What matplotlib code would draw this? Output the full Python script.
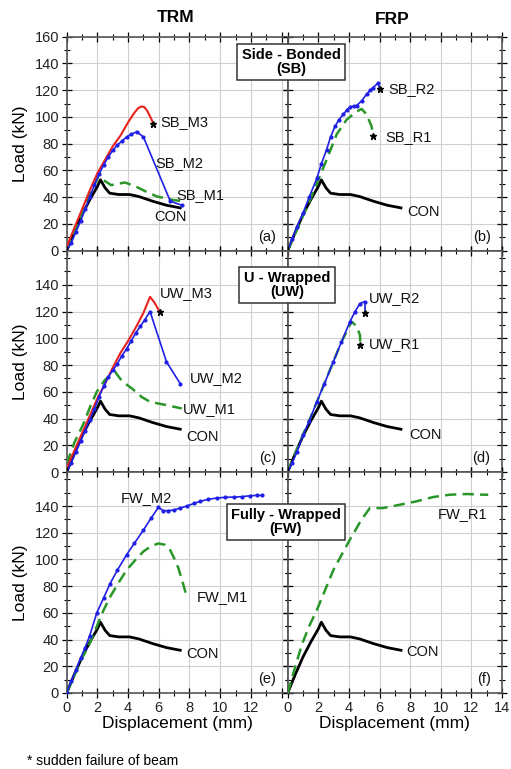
import matplotlib
matplotlib.use("Agg")
import matplotlib.pyplot as plt
from matplotlib.ticker import MultipleLocator

plt.rcParams['font.family'] = ['Liberation Sans', 'DejaVu Sans']

# ---- data ----
con_x = [0, 0.5, 1.0, 1.5, 2.0, 2.2, 2.5, 2.8, 3.4, 4.1, 4.7, 5.6, 6.5, 7.4]
con_y = [0, 14, 27, 38, 48, 53, 47, 43, 42, 42, 40.5, 37, 34, 32]

# side bonded
sb_m3_x = [0, 0.5, 1, 1.5, 2, 2.5, 3, 3.5, 4, 4.4, 4.65, 4.85, 5.05, 5.25, 5.45, 5.65]
sb_m3_y = [3, 17, 31, 45, 58, 68, 78, 86, 96, 103, 106.5, 107.8, 107.5, 104.5, 100, 95]
sb_m2_x = [0, 0.3, 0.6, 0.9, 1.2, 1.5, 1.8, 2.1, 2.4, 2.7, 3.0, 3.3, 3.6, 3.9, 4.2, 4.57, 5.0, 6.75, 7.5]
sb_m2_y = [0, 6, 14, 22, 31, 40, 49, 57, 64, 70, 75, 79, 82, 85, 87, 89, 85, 37, 34]
sb_m1_x = [0, 0.5, 1.0, 1.5, 2.07, 2.5, 2.9, 3.3, 3.8, 4.5, 5.2, 5.9, 6.9, 7.5]
sb_m1_y = [0, 14, 28, 42, 55.5, 52, 49, 50, 51, 48, 44, 40.5, 38, 37]
sb_r2_x = [0, 0.3, 0.6, 1.0, 1.4, 1.9, 2.2, 2.54, 2.8, 3.09, 3.35, 3.63, 3.85, 4.07, 4.3, 4.5, 4.83, 5.15, 5.4, 5.59, 5.91, 6.0]
sb_r2_y = [0, 9, 18, 28, 40, 54, 65, 75.5, 85, 93, 98, 102, 105, 107.5, 108, 108.5, 112, 117, 120, 122, 125.5, 121]
sb_r1_x = [0, 0.5, 1.0, 1.5, 2.0, 2.54, 3.2, 3.85, 4.5, 4.83, 5.15, 5.48, 5.6]
sb_r1_y = [0, 13, 26, 39, 53, 68, 87, 98, 104, 106, 102, 93, 85.5]

# U wrapped
uw_m3_x = [0, 0.5, 1, 1.5, 2, 2.5, 3, 3.5, 4, 4.5, 5, 5.43, 5.7, 6.05]
uw_m3_y = [3, 16, 29, 42, 55, 66, 78, 89, 98, 108, 119, 131, 127, 120]
uw_m2_x = [0, 0.3, 0.6, 0.9, 1.2, 1.5, 1.8, 2.1, 2.4, 2.7, 3.0, 3.3, 3.6, 3.9, 4.2, 4.5, 4.8, 5.1, 5.43, 6.5, 7.4]
uw_m2_y = [0, 7, 15, 23, 31, 39, 47, 56, 64, 71, 76, 81, 87, 92, 98, 104, 109, 114, 120, 82.5, 66]
uw_m1_x = [0, 0.5, 1.09, 1.5, 1.96, 2.5, 3.15, 3.6, 4.3, 4.9, 5.43, 6.5, 7.5]
uw_m1_y = [6, 22, 36, 48, 60, 69, 75, 68, 62, 56, 52.5, 50, 47.5]
uw_r2_x = [0, 0.3, 0.6, 1.0, 1.4, 1.9, 2.4, 2.98, 3.5, 4.07, 4.4, 4.72, 5.04, 5.06]
uw_r2_y = [0, 7, 15, 27.5, 38, 52.5, 66, 82.5, 97, 112.5, 120, 126, 127.5, 119]
uw_r1_x = [0, 0.5, 1.0, 1.5, 2.0, 2.5, 3.0, 3.5, 4.17, 4.5, 4.72, 4.75]
uw_r1_y = [0, 14, 28, 41, 55, 69, 83, 97, 112.5, 109, 102.5, 95]

# fully wrapped
fw_m2_x = [0, 0.3, 0.6, 0.9, 1.2, 1.5, 1.96, 2.4, 2.83, 3.3, 3.9, 4.4, 5.0, 5.5, 5.98, 6.3, 6.6, 6.96,
           7.4, 7.83, 8.3, 8.7, 9.2, 9.78, 10.3, 10.87, 11.4, 11.96, 12.4, 12.7]
fw_m2_y = [0, 9, 17, 26, 34, 43, 60, 71, 82, 92, 103.5, 112, 122, 131, 139, 136.5, 136.5, 137,
           138.5, 140, 142, 143.5, 145, 146, 146.5, 146.75, 147, 147.75, 148, 148]
fw_m1_x = [0, 0.5, 1.0, 1.5, 1.96, 2.4, 2.83, 3.4, 3.9, 4.5, 5.0, 5.5, 5.98, 6.4, 6.74, 7.0, 7.28, 7.55, 7.83]
fw_m1_y = [0, 13, 26, 37, 50, 62, 72, 83, 92, 100, 106, 110, 112, 111, 107, 101, 93.5, 83, 72]
fw_r1_x = [0, 0.45, 0.92, 1.4, 1.9, 2.98, 4.07, 4.83, 5.37, 6.24, 7.33, 8.4, 9.5, 10.6, 11.7, 12.76, 13.1]
fw_r1_y = [0, 18, 36, 50, 62, 92, 115, 130, 138.5, 138.5, 141, 143.5, 146.75, 148.5, 149, 148.5, 148.5]

RED = '#e8231f'
BLUE = '#1f1fe6'
GREEN = '#2a962a'


def con(ax):
    ax.plot(con_x, con_y, color='black', lw=2.0, zorder=3)


def red(ax, x, y):
    ax.plot(x, y, color=RED, lw=1.5, zorder=4)


def blue(ax, x, y):
    ax.plot(x, y, color=BLUE, lw=1.2, marker='o', ms=2.0, zorder=5)


def green(ax, x, y):
    ax.plot(x, y, color=GREEN, lw=1.8, ls=(0, (4.5, 2.5)), zorder=4)


def star(ax, x, y):
    ax.plot([x], [y], marker='*', color='black', ms=5, ls='none', zorder=6)


def lab(ax, x, y, s):
    ax.text(x, y, s, fontsize=10.5, ha='left', va='center', color='#111', zorder=7)


fig = plt.figure(figsize=(5.11, 7.69), dpi=100)
W, H = 511.0, 769.0
cols = [(66.7, 287.7, 14.4), (287.7, 502.0, 14.0)]
rows = [(36.7, 250.7, 160), (250.7, 472.0, 165.5), (472.0, 693.0, 165.5)]
axes = {}
for r, (top, bot, ymax) in enumerate(rows):
    for c, (left, right, xmax) in enumerate(cols):
        ax = fig.add_axes([left / W, 1 - bot / H, (right - left) / W, (bot - top) / H])
        ax.set_xlim(0, xmax)
        ax.set_ylim(0, ymax)
        ax.xaxis.set_major_locator(MultipleLocator(2))
        ax.xaxis.set_minor_locator(MultipleLocator(1))
        ax.set_yticks(range(0, 161 if r == 0 else 141, 20))
        ax.yaxis.set_minor_locator(MultipleLocator(10))
        ax.grid(True, which='major', color='#cfcfcf', lw=0.8)
        ax.set_axisbelow(True)
        ax.tick_params(which='both', direction='inout', top=True, right=True,
                       labelsize=10.5, labelcolor='#222', pad=2)
        ax.tick_params(which='major', length=7, width=0.9)
        ax.tick_params(which='minor', length=4, width=0.8)
        for sp in ax.spines.values():
            sp.set_color('#555')
            sp.set_linewidth(1.2)
        if c == 1:
            ax.tick_params(labelleft=False)
        else:
            ax.set_ylabel('Load (kN)', fontsize=12.5, labelpad=4)
            ax.yaxis.set_label_coords(-0.175, 0.5)
        if r < 2:
            ax.tick_params(labelbottom=False)
        else:
            ax.set_xlabel('Displacement (mm)', fontsize=12.5, labelpad=1)
            if c == 0:
                ax.set_xticks(range(0, 15, 2))
                ax.set_xticklabels([str(v) for v in range(0, 13, 2)] + [''])
        axes[(r, c)] = ax

# (a) side bonded TRM
ax = axes[(0, 0)]
con(ax)
green(ax, sb_m1_x, sb_m1_y)
blue(ax, sb_m2_x, sb_m2_y)
red(ax, sb_m3_x, sb_m3_y)
star(ax, sb_m3_x[-1], sb_m3_y[-1])
lab(ax, 6.1, 96, 'SB_M3')
lab(ax, 5.77, 65.6, 'SB_M2')
lab(ax, 7.14, 41.6, 'SB_M1')
lab(ax, 5.7, 25.2, 'CON')

# (b) side bonded FRP
ax = axes[(0, 1)]
con(ax)
green(ax, sb_r1_x, sb_r1_y)
blue(ax, sb_r2_x, sb_r2_y)
star(ax, sb_r2_x[-1], sb_r2_y[-1])
star(ax, sb_r1_x[-1], sb_r1_y[-1])
lab(ax, 6.55, 120.7, 'SB_R2')
lab(ax, 6.4, 85.3, 'SB_R1')
lab(ax, 7.78, 28.7, 'CON')

# (c) U wrapped TRM
ax = axes[(1, 0)]
con(ax)
green(ax, uw_m1_x, uw_m1_y)
blue(ax, uw_m2_x, uw_m2_y)
red(ax, uw_m3_x, uw_m3_y)
star(ax, uw_m3_x[-1], uw_m3_y[-1])
lab(ax, 6.05, 134, 'UW_M3')
lab(ax, 8.0, 70, 'UW_M2')
lab(ax, 7.6, 47, 'UW_M1')
lab(ax, 7.78, 26.4, 'CON')

# (d) U wrapped FRP
ax = axes[(1, 1)]
con(ax)
green(ax, uw_r1_x, uw_r1_y)
blue(ax, uw_r2_x, uw_r2_y)
star(ax, uw_r2_x[-1], uw_r2_y[-1])
star(ax, uw_r1_x[-1], uw_r1_y[-1])
lab(ax, 5.33, 130, 'UW_R2')
lab(ax, 5.33, 95.5, 'UW_R1')
lab(ax, 7.93, 28, 'CON')

# (e) fully wrapped TRM
ax = axes[(2, 0)]
con(ax)
green(ax, fw_m1_x, fw_m1_y)
blue(ax, fw_m2_x, fw_m2_y)
lab(ax, 3.53, 146, 'FW_M2')
lab(ax, 8.45, 72, 'FW_M1')
lab(ax, 7.78, 29, 'CON')

# (f) fully wrapped FRP
ax = axes[(2, 1)]
con(ax)
green(ax, fw_r1_x, fw_r1_y)
lab(ax, 9.8, 134, 'FW_R1')
lab(ax, 7.73, 31, 'CON')

letters = ['(a)', '(b)', '(c)', '(d)', '(e)', '(f)']
for i, s in enumerate(letters):
    r, c = divmod(i, 2)
    ax = axes[(r, c)]
    ax.text(ax.get_xlim()[1] - 0.75, 10.5, s, fontsize=10.5, ha='right', va='center', color='#111')

fig.text(176 / W, 1 - 18 / H, 'TRM', fontsize=12.5, fontweight='bold', ha='center', va='center')
fig.text(392 / W, 1 - 19 / H, 'FRP', fontsize=12.5, fontweight='bold', ha='center', va='center')

box = dict(boxstyle='square,pad=0.3', fc='white', ec='#333', lw=1.1)
fig.text(291 / W, 1 - 62 / H, 'Side - Bonded\n(SB)', fontsize=10.5, fontweight='bold',
         ha='center', va='center', linespacing=1.0, bbox=box, zorder=10)
fig.text(287 / W, 1 - 285 / H, 'U - Wrapped\n(UW)', fontsize=10.5, fontweight='bold',
         ha='center', va='center', linespacing=1.0, bbox=box, zorder=10)
fig.text(286 / W, 1 - 522 / H, 'Fully - Wrapped\n(FW)', fontsize=10.5, fontweight='bold',
         ha='center', va='center', linespacing=1.0, bbox=box, zorder=10)

fig.text(27 / W, 1 - 761 / H, '* sudden failure of beam', fontsize=10, ha='left', va='center')

fig.savefig('out.png', dpi=100)
